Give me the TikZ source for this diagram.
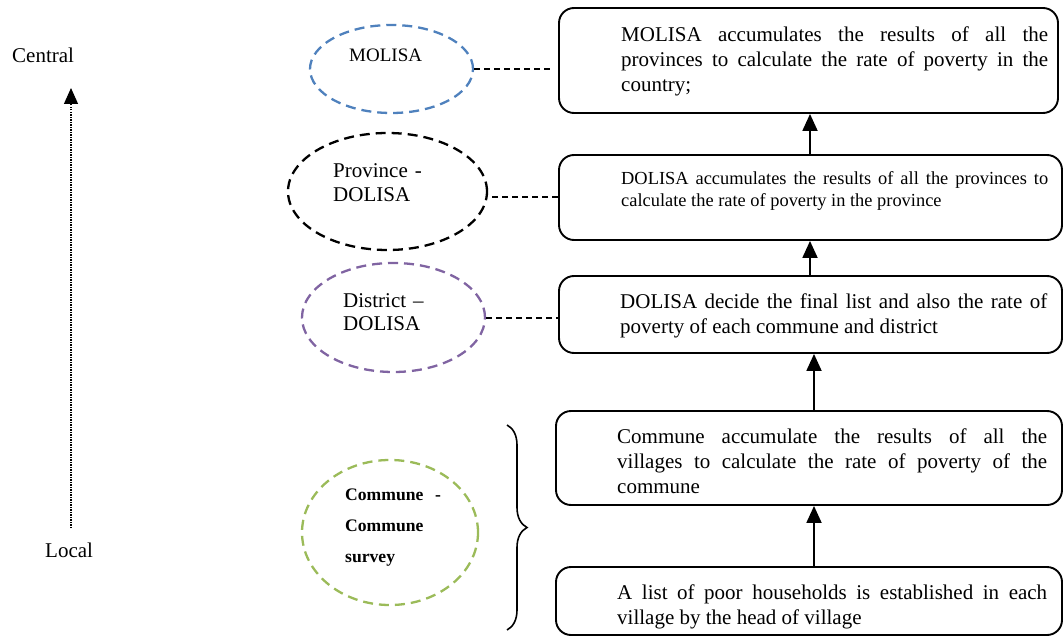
\documentclass[tikz,border=0pt]{standalone}
\usepackage{fontspec}
\setmainfont{Liberation Serif}
\usetikzlibrary{shapes.geometric,arrows.meta,decorations.pathreplacing}
\definecolor{molisablue}{HTML}{4F81BD}
\definecolor{districtpurple}{HTML}{8064A2}
\definecolor{communegreen}{HTML}{9BBB59}

\begin{document}
\begin{tikzpicture}[x=1pt,y=-1pt]
   \tikzstyle{box}=[draw, rectangle, rounded corners=15pt, line width=1.9pt]
   \tikzstyle{txt}=[inner sep=0pt, anchor=base west, align=justify]
   \tikzstyle{lvl}=[ellipse, draw, line width=2.3pt, dash pattern=on 10pt off 6pt]
   \tikzstyle{link}=[dash pattern=on 6pt off 4pt, line width=1.8pt]
   \tikzstyle{up}=[-{Triangle[length=17pt,width=15pt]}, line width=1.9pt]
   \tikzstyle{big}=[font=\fontsize{21}{25}\selectfont]

\useasboundingbox (0,0) rectangle (1064,636);

% scale from local to central
\node[txt, big] (central) at (12,63) {Central};
\node[txt, big] (local) at (45,557) {Local};
\coordinate (scalebot) at (71,528);
\coordinate (scaletop) at (71,88);
\draw[-{Triangle[length=16pt,width=14pt]}, line width=1.2pt, dash pattern=on 1.2pt off 1.3pt] (scalebot) -- (scaletop);

% levels
\node[lvl, molisablue, minimum width=163pt, minimum height=88pt] (molisa) at (391.5,69) {};
\node[lvl, black, minimum width=199pt, minimum height=117pt] (province) at (387.5,191.5) {};
\node[lvl, districtpurple, minimum width=183pt, minimum height=109pt] (district) at (393.5,317.5) {};
\node[lvl, communegreen, minimum width=176pt, minimum height=145pt] (commune) at (390,532.5) {};

\node[txt, font=\fontsize{19}{22}\selectfont] (molisatxt) at (349,62) {MOLISA};
\node[txt, text width=110pt, align=left, font=\fontsize{21}{24}\selectfont] (provincetxt) at (333,178) {Province -\\DOLISA};
\node[txt, text width=100pt, align=left, font=\fontsize{21}{23}\selectfont] (districttxt) at (343,307) {District --\\DOLISA};
\node[txt, text width=100pt, align=left, font=\fontsize{17.6}{31}\selectfont\bfseries] (communetxt) at (345,500) {Commune~~-\\Commune\\survey};

% steps
\node[box, minimum width=499pt, minimum height=105pt] (box1) at (808.5,60.5) {};
\node[box, minimum width=503pt, minimum height=85pt] (box2) at (810.5,197.5) {};
\node[box, minimum width=503pt, minimum height=77pt] (box3) at (810.5,314.5) {};
\node[box, minimum width=506pt, minimum height=94pt] (box4) at (809,458) {};
\node[box, minimum width=506pt, minimum height=68pt] (box5) at (809,601) {};

\node[txt, big, text width=427pt] (box1txt) at (621,42) {MOLISA accumulates the results of all the\linebreak provinces to calculate the rate of poverty in the\linebreak country;};
\node[txt, text width=427pt, font=\fontsize{18.4}{21.5}\selectfont] (box2txt) at (621,185) {DOLISA accumulates the results of all the provinces to\linebreak calculate the rate of poverty in the province};
\node[txt, big, text width=427pt] (box3txt) at (620,308) {DOLISA decide the final list and also the rate of\linebreak poverty of each commune and district};
\node[txt, big, text width=430pt] (box4txt) at (617,443) {Commune accumulate the results of all the\linebreak villages to calculate the rate of poverty of the\linebreak commune};
\node[txt, big, text width=430pt] (box5txt) at (617,599) {A list of poor households is established in each\linebreak village by the head of village};

% upward flow
\draw[up] ([xshift=-0.5pt]box2.north) -- ([xshift=-0.5pt]box2.north |- box1.south);
\draw[up] ([xshift=-0.5pt]box3.north) -- ([xshift=-0.5pt]box3.north |- box2.south);
\draw[up] ([xshift=5pt]box4.north) -- ([xshift=5pt]box4.north |- box3.south);
\draw[up] ([xshift=5pt]box5.north) -- ([xshift=5pt]box5.north |- box4.south);

% links from levels to steps
\draw[link] (molisa.east) -- ([xshift=-7pt]box1.west |- molisa.east);
\draw[link] ([yshift=0.5pt]box2.west) -- ([yshift=0.5pt]box2.west -| province.east);
\draw[link] ([yshift=-0.5pt]district.east) -- ([yshift=-0.5pt]district.east -| box3.west);

% commune brace
\coordinate (bracetop) at (507,425);
\coordinate (bracebot) at (507,630);
\draw[line width=1.6pt, decorate, decoration={brace, amplitude=20pt}] (bracetop) -- (bracebot);

\end{tikzpicture}
\end{document}
